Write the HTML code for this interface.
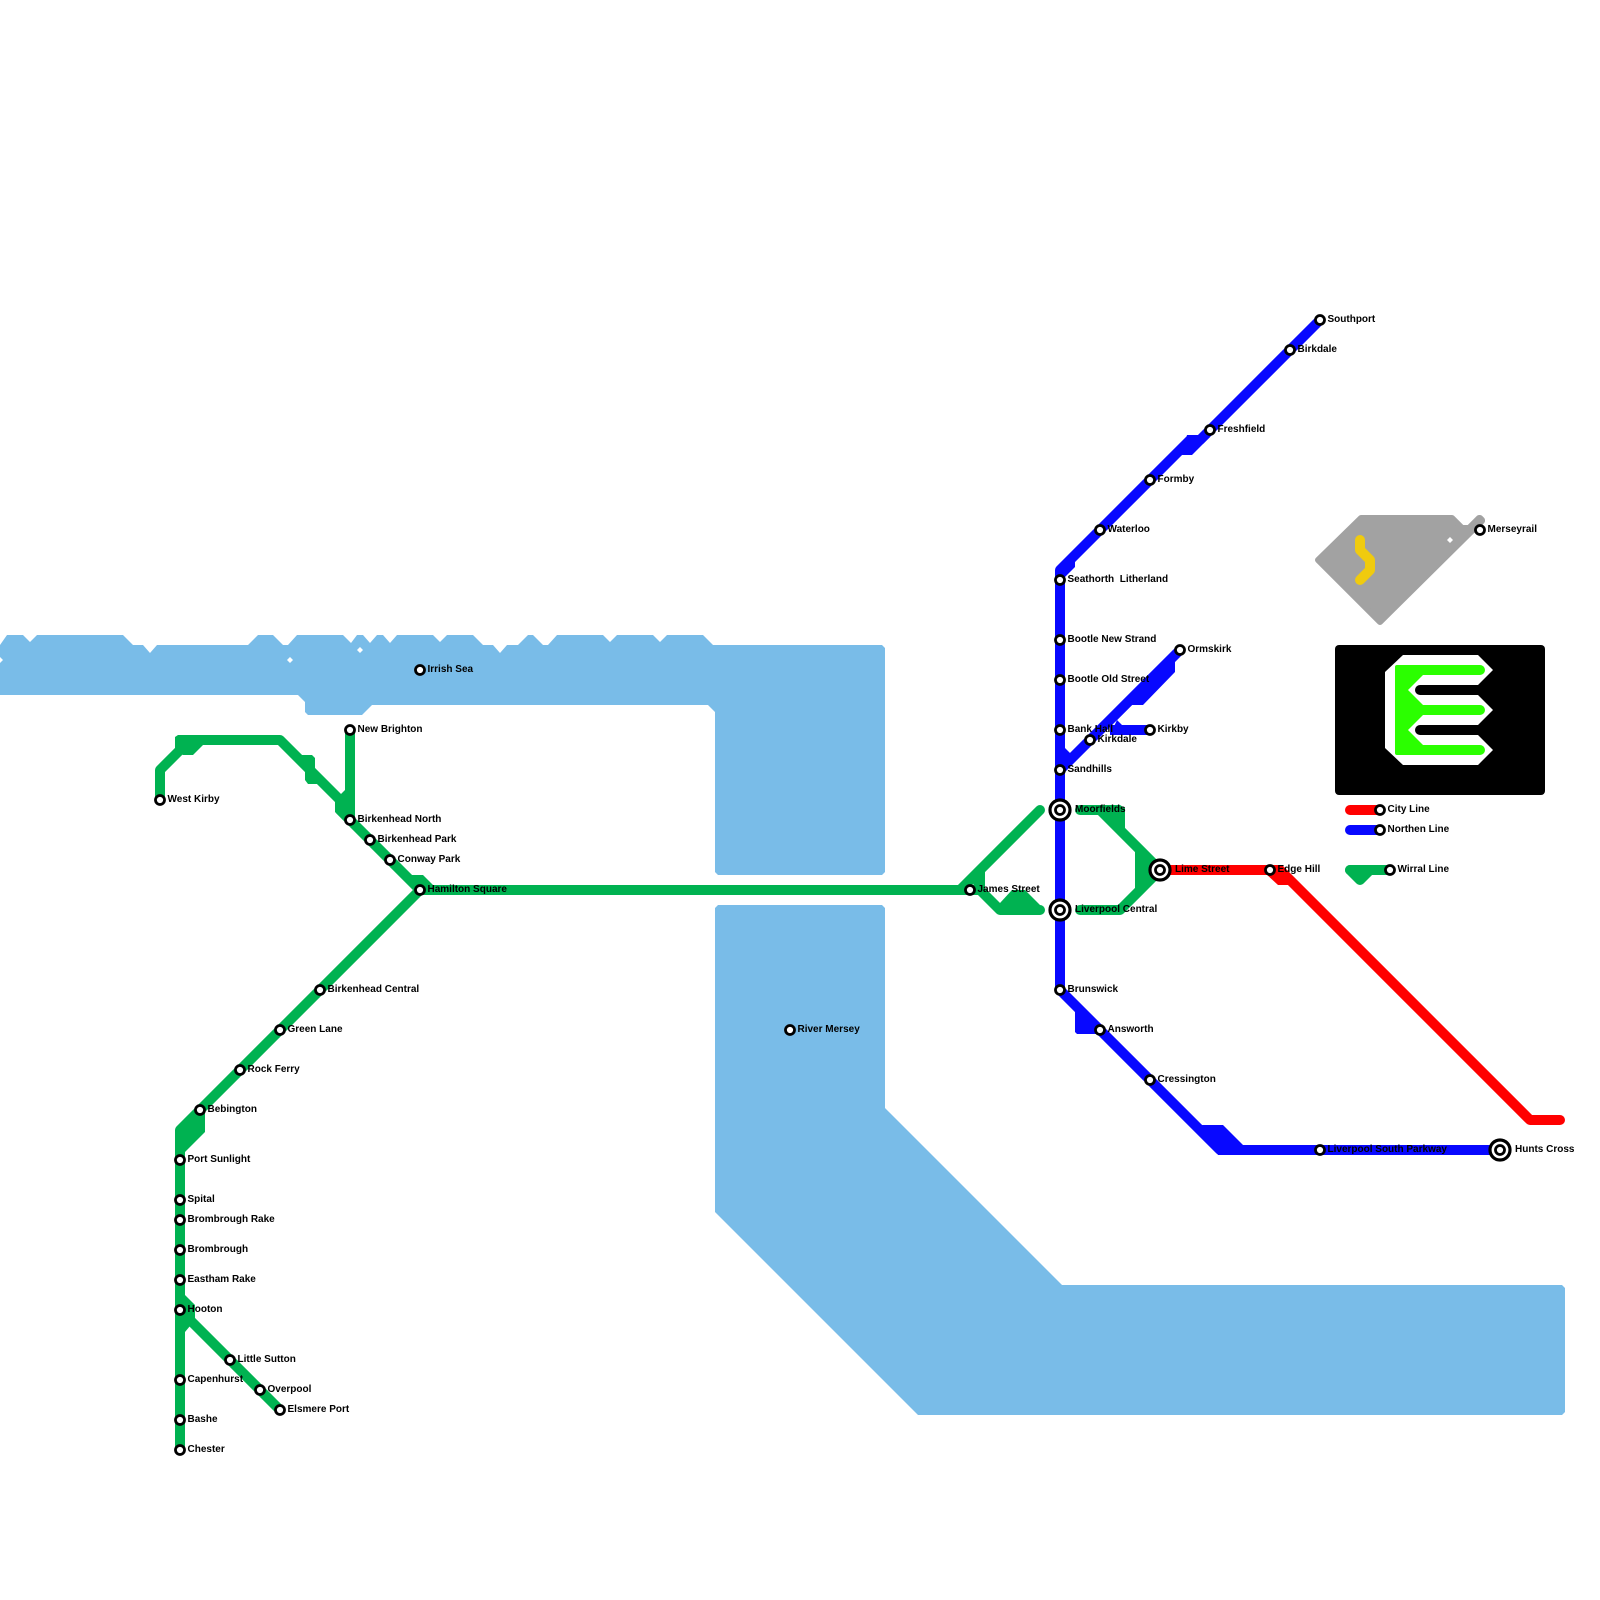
<!DOCTYPE html>
<html><head><meta charset="utf-8"><style>
html,body{margin:0;padding:0;background:#fff}
svg{display:block}
text{font-family:"Liberation Sans",sans-serif;font-weight:bold;font-size:10px;fill:#000}
.l{fill:none;stroke-width:10;stroke-linecap:round;stroke-linejoin:round}
.g{stroke:#00b251}.b{stroke:#0808ff}.r{stroke:#ff0000}
.st{fill:#fff;stroke:#000;stroke-width:2.8}
</style></head><body>
<svg width="1600" height="1600" viewBox="0 0 1600 1600" xmlns="http://www.w3.org/2000/svg">
<rect width="1600" height="1600" fill="#fff"/>
<!-- water -->
<polygon fill="#79bce8" points="0,645 7,635 23,635 30,642 37,635 123,635 133,645 143,645 150,653 157,645 248,645 258,635 273,635 283,645 288,645 297,635 343,635 351,643 357,635 363,635 370,643 377,635 383,635 390,643 397,635 433,635 440,642 447,635 473,635 483,645 493,645 500,653 507,645 518,645 528,635 533,635 543,645 548,645 557,635 603,635 610,642 617,635 653,635 660,642 667,635 703,635 713,645 882,645 885,648 885,872 882,875 718,875 715,872 715,712 708,705 372,705 362,715 308,715 305,712 305,702 298,695 0,695"/>
<polygon fill="#79bce8" points="718,905 882,905 885,908 885,1108 1062,1285 1562,1285 1565,1288 1565,1412 1562,1415 918,1415 715,1212 715,908"/>
<g fill="#fff">
<polygon points="0,657 3,660 0,663 -3,660"/>
<polygon points="290,657 293,660 290,663 287,660"/>
<polygon points="360,647 363,650 360,653 357,650"/>
</g>
<!-- logo -->
<polygon fill="#a2a2a2" stroke="#a2a2a2" stroke-width="6" stroke-linejoin="round" points="1361,518 1452,518 1462,528 1469,528 1479,518 1480,518 1482,520 1482,521 1380,622 1318,560"/>
<polygon fill="#fff" points="1450,537 1453,540 1450,543 1447,540"/>
<path class="l" stroke="#f0cb0e" d="M1360,540V550L1370,560V570L1360,580"/>
<rect x="1335" y="645" width="210" height="150" rx="4" fill="#000"/>
<path fill="#fff" d="M1385,672L1403,655H1478L1493,670L1478,685H1420A5,5 0 0 0 1420,695H1478L1493,710L1478,725H1420A5,5 0 0 0 1420,735H1478L1493,750L1478,765H1403L1385,748Z"/>
<path fill="#2bff00" d="M1397,665H1480A5,5 0 0 1 1480,675H1423L1408,690L1423,705H1480A5,5 0 0 1 1480,715H1423L1408,730L1423,745H1480A5,5 0 0 1 1480,755H1397Q1395,755 1395,753V667Q1395,665 1397,665Z"/>
<!-- green -->
<path class="l g" d="M160,800V770L190,740H280L340,800V810L420,890H960L1040,810M420,890L180,1130V1450M350,730V820M180,1310L280,1410M960,890H980L1000,910H1040M1080,810H1100L1160,870L1120,910H1080M1350,870H1390"/>
<g fill="#00b251">
<polygon points="175,737 175,750 183,755 193,755 203,745 203,735 178,735"/>
<polygon points="302,755 312,755 315,758 315,771 305,771 302,765"/>
<polygon points="305,770 305,780 308,784 317,784 315,770"/>
<polygon points="335,800 345,790 355,785 355,822 345,822 335,812"/>
<polygon points="410,875 423,875 433,885 433,895 415,885"/>
<polygon points="205,1105 205,1132 175,1162 175,1130"/>
<polygon points="175,1290 185,1295 195,1305 195,1320 185,1332 175,1332"/>
<polygon points="972,878 985,868 985,888 975,892"/>
<polygon points="1000,903 1012,890 1025,890 1045,910 1040,915 1000,915"/>
<polygon points="1100,815 1100,805 1120,805 1125,808 1125,830"/>
<polygon points="1135,850 1160,870 1135,890"/>
<path stroke="#00b251" stroke-width="10" stroke-linejoin="round" d="M1350,870L1360,880L1370,870Z"/>
</g>
<!-- blue -->
<path class="l b" d="M1320,320L1200,440H1190L1060,570V990L1220,1150H1500M1060,770L1180,650"/>
<path class="l b" style="stroke-linecap:butt" d="M1110,730H1150"/>
<path class="l b" d="M1350,830H1380"/>
<g fill="#0808ff">
<polygon points="1187,435 1205,435 1210,437 1192,455 1182,455"/>
<polygon points="1060,565 1075,560 1075,567 1065,577 1060,577"/>
<polygon points="1060,745 1065,748 1072,755 1060,770"/>
<polygon points="1175,655 1175,672 1143,705 1132,705 1117,720 1110,715"/>
<polygon points="1117,720 1122,725 1150,725 1150,735 1110,735"/>
<polygon points="1075,1011 1075,1032 1077,1034 1100,1034 1100,1030"/>
<polygon points="1202,1125 1223,1125 1245,1147 1245,1155 1218,1155"/>
</g>
<!-- red -->
<path class="l r" d="M1160,870H1280L1530,1120H1560M1350,810H1380"/>
<polygon fill="#ff0000" points="1265,873 1278,885 1288,885 1292,875 1275,870"/>
<!-- stations -->
<g class="st">
<circle cx="160" cy="800" r="4.5"/><circle cx="350" cy="730" r="4.5"/><circle cx="350" cy="820" r="4.5"/><circle cx="370" cy="840" r="4.5"/><circle cx="390" cy="860" r="4.5"/><circle cx="420" cy="890" r="4.5"/><circle cx="320" cy="990" r="4.5"/><circle cx="280" cy="1030" r="4.5"/><circle cx="240" cy="1070" r="4.5"/><circle cx="200" cy="1110" r="4.5"/><circle cx="180" cy="1160" r="4.5"/><circle cx="180" cy="1200" r="4.5"/><circle cx="180" cy="1220" r="4.5"/><circle cx="180" cy="1250" r="4.5"/><circle cx="180" cy="1280" r="4.5"/><circle cx="180" cy="1310" r="4.5"/><circle cx="180" cy="1380" r="4.5"/><circle cx="180" cy="1420" r="4.5"/><circle cx="180" cy="1450" r="4.5"/><circle cx="230" cy="1360" r="4.5"/><circle cx="260" cy="1390" r="4.5"/><circle cx="280" cy="1410" r="4.5"/><circle cx="420" cy="670" r="4.5"/><circle cx="790" cy="1030" r="4.5"/><circle cx="970" cy="890" r="4.5"/>
<circle cx="1320" cy="320" r="4.5"/><circle cx="1290" cy="350" r="4.5"/><circle cx="1210" cy="430" r="4.5"/><circle cx="1150" cy="480" r="4.5"/><circle cx="1100" cy="530" r="4.5"/><circle cx="1060" cy="580" r="4.5"/><circle cx="1060" cy="640" r="4.5"/><circle cx="1060" cy="680" r="4.5"/><circle cx="1060" cy="730" r="4.5"/><circle cx="1090" cy="740" r="4.5"/><circle cx="1150" cy="730" r="4.5"/><circle cx="1180" cy="650" r="4.5"/><circle cx="1060" cy="770" r="4.5"/><circle cx="1060" cy="990" r="4.5"/><circle cx="1100" cy="1030" r="4.5"/><circle cx="1150" cy="1080" r="4.5"/><circle cx="1320" cy="1150" r="4.5"/><circle cx="1270" cy="870" r="4.5"/>
<circle cx="1480" cy="530" r="4.5"/><circle cx="1380" cy="810" r="4.5"/><circle cx="1380" cy="830" r="4.5"/><circle cx="1390" cy="870" r="4.5"/>
<circle cx="1060" cy="810" r="10" stroke-width="3.2"/><circle cx="1060" cy="810" r="4.5"/>
<circle cx="1060" cy="910" r="10" stroke-width="3.2"/><circle cx="1060" cy="910" r="4.5"/>
<circle cx="1160" cy="870" r="10" stroke-width="3.2"/><circle cx="1160" cy="870" r="4.5"/>
<circle cx="1500" cy="1150" r="10" stroke-width="3.2"/><circle cx="1500" cy="1150" r="4.5"/>
</g>
<!-- labels -->
<text x="167.5" y="802">West Kirby</text>
<text x="357.5" y="732">New Brighton</text>
<text x="357.5" y="822">Birkenhead North</text>
<text x="377.5" y="842">Birkenhead Park</text>
<text x="397.5" y="862">Conway Park</text>
<text x="427.5" y="892">Hamilton Square</text>
<text x="327.5" y="992">Birkenhead Central</text>
<text x="287.5" y="1032">Green Lane</text>
<text x="247.5" y="1072">Rock Ferry</text>
<text x="207.5" y="1112">Bebington</text>
<text x="187.5" y="1162">Port Sunlight</text>
<text x="187.5" y="1202">Spital</text>
<text x="187.5" y="1222">Brombrough Rake</text>
<text x="187.5" y="1252">Brombrough</text>
<text x="187.5" y="1282">Eastham Rake</text>
<text x="187.5" y="1312">Hooton</text>
<text x="187.5" y="1382">Capenhurst</text>
<text x="187.5" y="1422">Bashe</text>
<text x="187.5" y="1452">Chester</text>
<text x="237.5" y="1362">Little Sutton</text>
<text x="267.5" y="1392">Overpool</text>
<text x="287.5" y="1412">Elsmere Port</text>
<text x="427.5" y="672">Irrish Sea</text>
<text x="797.5" y="1032">River Mersey</text>
<text x="977.5" y="892">James Street</text>
<text x="1327.5" y="322">Southport</text>
<text x="1297.5" y="352">Birkdale</text>
<text x="1217.5" y="432">Freshfield</text>
<text x="1157.5" y="482">Formby</text>
<text x="1107.5" y="532">Waterloo</text>
<text x="1067.5" y="582" xml:space="preserve">Seathorth  Litherland</text>
<text x="1067.5" y="642">Bootle New Strand</text>
<text x="1067.5" y="682">Bootle Old Street</text>
<text x="1067.5" y="732">Bank Hall</text>
<text x="1097.5" y="742">Kirkdale</text>
<text x="1157.5" y="732">Kirkby</text>
<text x="1187.5" y="652">Ormskirk</text>
<text x="1067.5" y="772">Sandhills</text>
<text x="1075" y="812">Moorfields</text>
<text x="1075" y="912">Liverpool Central</text>
<text x="1175" y="872">Lime Street</text>
<text x="1277.5" y="872">Edge Hill</text>
<text x="1067.5" y="992">Brunswick</text>
<text x="1107.5" y="1032">Answorth</text>
<text x="1157.5" y="1082">Cressington</text>
<text x="1327.5" y="1152">Liverpool South Parkway</text>
<text x="1515" y="1152">Hunts Cross</text>
<text x="1487.5" y="532">Merseyrail</text>
<text x="1387.5" y="812">City Line</text>
<text x="1387.5" y="832">Northen Line</text>
<text x="1397.5" y="872">Wirral Line</text>
</svg>
</body></html>
